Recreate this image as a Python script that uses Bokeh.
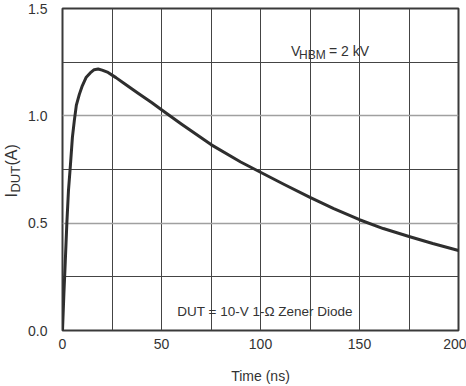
from bokeh.plotting import figure
from bokeh.models import Range1d, FixedTicker, Label, LinearAxis
from bokeh.embed import file_html
from bokeh.resources import INLINE

# Data (time in ns, current in A)
time_ns = [0, 0.7, 1.4, 2.2, 3.0, 4.0, 5.0, 6.0, 7.0, 8.5, 10, 12, 14, 16, 18, 20,
           23, 27, 31, 38, 45, 50, 60, 75, 90, 100, 112, 125, 137, 150, 162, 175, 187, 200]
i_dut = [0, 0.17, 0.32, 0.5, 0.65, 0.77, 0.9, 0.98, 1.05, 1.1, 1.14, 1.18, 1.2, 1.215, 1.218, 1.213,
         1.202, 1.178, 1.152, 1.106, 1.062, 1.028, 0.962, 0.866, 0.785, 0.737, 0.68, 0.62, 0.568, 0.516,
         0.475, 0.438, 0.405, 0.373]

x_ticks = [0, 50, 100, 150, 200]
x_minor = [25, 75, 125, 175]
y_ticks = [0, 0.5, 1.0, 1.5]
y_minor = [0.25, 0.75, 1.25]
y_tick_labels = {0: "0.0", 0.5: "0.5", 1.0: "1.0", 1.5: "1.5"}

# y-axis title pieces: I_DUT(A), placed along the y axis
y_title_main = {0.630: "I", 0.818: "(A)"}
y_title_sub = {0.705: "DUT"}

FONT = "Liberation Sans"
TXT = "#333333"
GRID = "#444444"

p = figure(width=466, height=386, output_backend="svg", toolbar_location=None,
           x_range=Range1d(0, 200), y_range=Range1d(0, 1.5),
           min_border_left=61, min_border_right=8, min_border_top=8, min_border_bottom=56)
p.background_fill_color = "white"
p.border_fill_color = "white"
p.outline_line_color = "#3a3a3a"
p.outline_line_width = 2

p.xaxis.ticker = FixedTicker(ticks=x_ticks, minor_ticks=x_minor)
p.yaxis.ticker = FixedTicker(ticks=y_ticks, minor_ticks=y_minor)
p.yaxis.major_label_overrides = y_tick_labels


def style_axis(ax, size="14px"):
    ax.axis_line_color = None
    ax.major_tick_line_color = None
    ax.minor_tick_line_color = None
    ax.major_tick_out = 0
    ax.major_tick_in = 0
    ax.minor_tick_out = 0
    ax.minor_tick_in = 0
    ax.major_label_text_font = FONT
    ax.major_label_text_font_size = size
    ax.major_label_text_color = TXT
    ax.axis_label_text_font = FONT
    ax.axis_label_text_font_size = "14px"
    ax.axis_label_text_font_style = "normal"
    ax.axis_label_text_color = TXT


style_axis(p.xaxis[0])
style_axis(p.yaxis[0])

p.xaxis.major_label_standoff = 8
p.xaxis.axis_label = "Time (ns)"
p.xaxis.axis_label_standoff = 16
p.yaxis.major_label_standoff = 15

# subscript "DUT" (closer to the frame)
ax_sub = LinearAxis(ticker=FixedTicker(ticks=list(y_title_sub.keys())),
                    major_label_overrides=y_title_sub, major_label_orientation="vertical",
                    major_label_standoff=2)
style_axis(ax_sub, "13px")
p.add_layout(ax_sub, "left")

# "I" and "(A)"
ax_main = LinearAxis(ticker=FixedTicker(ticks=list(y_title_main.keys())),
                     major_label_overrides=y_title_main, major_label_orientation="vertical",
                     major_label_standoff=-15)
style_axis(ax_main, "16px")
p.add_layout(ax_main, "left")

p.xgrid.grid_line_color = GRID
p.xgrid.minor_grid_line_color = GRID
p.ygrid.grid_line_color = "#a0a0a0"
p.ygrid.grid_line_width = 1.5
p.ygrid.minor_grid_line_color = GRID

p.line(time_ns, i_dut, line_width=3, color="#2e2e2e", line_join="round", line_cap="round")

# V_HBM = 2 kV
p.add_layout(Label(x=115.4, y=1.304, text="V", text_font=FONT, text_font_size="14px",
                   text_color=TXT, text_baseline="alphabetic"))
p.add_layout(Label(x=115.4, y=1.304, x_offset=8, y_offset=-4, text="HBM", text_font=FONT,
                   text_font_size="12px", text_color=TXT, text_baseline="alphabetic"))
p.add_layout(Label(x=115.4, y=1.304, x_offset=38, text="= 2 kV", text_font=FONT,
                   text_font_size="14px", text_color=TXT, text_baseline="alphabetic"))

# DUT annotation
p.add_layout(Label(x=58.0, y=0.088, text="DUT = 10-V 1-\u03a9 Zener Diode", text_font=FONT,
                   text_font_size="13.5px", text_color=TXT, text_baseline="alphabetic"))

open("out.html", "w").write(file_html(p, INLINE))
